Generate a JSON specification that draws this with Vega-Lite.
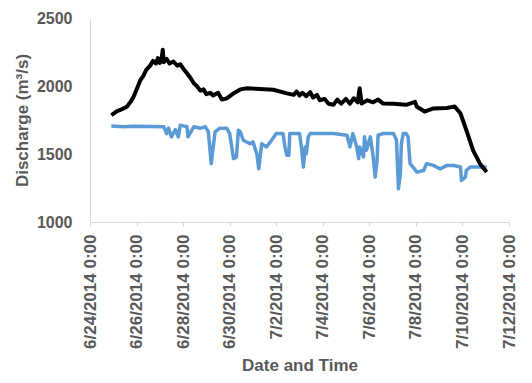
{
  "$schema": "https://vega.github.io/schema/vega-lite/v6.json",
  "width": 419,
  "height": 204,
  "autosize": "none",
  "padding": {"left": 90, "top": 18, "right": 23, "bottom": 161},
  "background": "white",
  "config": {"view": {"stroke": null}, "font": "Liberation Sans"},
  "datasets": {
    "black": [
      {"t": "2014-06-24T22:00:00Z", "q": 1786},
      {"t": "2014-06-25T01:00:00Z", "q": 1800},
      {"t": "2014-06-25T04:00:00Z", "q": 1815},
      {"t": "2014-06-25T09:00:00Z", "q": 1830},
      {"t": "2014-06-25T14:00:00Z", "q": 1847},
      {"t": "2014-06-25T18:00:00Z", "q": 1885},
      {"t": "2014-06-25T21:00:00Z", "q": 1921},
      {"t": "2014-06-26T01:00:00Z", "q": 1990},
      {"t": "2014-06-26T04:00:00Z", "q": 2044},
      {"t": "2014-06-26T07:00:00Z", "q": 2075},
      {"t": "2014-06-26T10:00:00Z", "q": 2118},
      {"t": "2014-06-26T14:00:00Z", "q": 2150},
      {"t": "2014-06-26T17:00:00Z", "q": 2185},
      {"t": "2014-06-26T20:00:00Z", "q": 2165},
      {"t": "2014-06-26T22:00:00Z", "q": 2205},
      {"t": "2014-06-27T00:00:00Z", "q": 2170},
      {"t": "2014-06-27T02:00:00Z", "q": 2210},
      {"t": "2014-06-27T03:00:00Z", "q": 2266},
      {"t": "2014-06-27T04:00:00Z", "q": 2175},
      {"t": "2014-06-27T07:00:00Z", "q": 2200},
      {"t": "2014-06-27T10:00:00Z", "q": 2165},
      {"t": "2014-06-27T14:00:00Z", "q": 2180},
      {"t": "2014-06-27T18:00:00Z", "q": 2150},
      {"t": "2014-06-27T21:00:00Z", "q": 2160},
      {"t": "2014-06-28T01:00:00Z", "q": 2120},
      {"t": "2014-06-28T04:00:00Z", "q": 2094},
      {"t": "2014-06-28T08:00:00Z", "q": 2055},
      {"t": "2014-06-28T11:00:00Z", "q": 2020},
      {"t": "2014-06-28T14:00:00Z", "q": 2000},
      {"t": "2014-06-28T18:00:00Z", "q": 1965},
      {"t": "2014-06-28T21:00:00Z", "q": 1975},
      {"t": "2014-06-29T00:00:00Z", "q": 1940},
      {"t": "2014-06-29T04:00:00Z", "q": 1950},
      {"t": "2014-06-29T07:00:00Z", "q": 1930},
      {"t": "2014-06-29T12:00:00Z", "q": 1950},
      {"t": "2014-06-29T16:00:00Z", "q": 1900},
      {"t": "2014-06-29T21:00:00Z", "q": 1909},
      {"t": "2014-06-30T04:00:00Z", "q": 1946},
      {"t": "2014-06-30T11:00:00Z", "q": 1975},
      {"t": "2014-06-30T18:00:00Z", "q": 1983},
      {"t": "2014-07-01T07:00:00Z", "q": 1978},
      {"t": "2014-07-01T21:00:00Z", "q": 1972},
      {"t": "2014-07-02T11:00:00Z", "q": 1946},
      {"t": "2014-07-02T18:00:00Z", "q": 1935},
      {"t": "2014-07-02T21:00:00Z", "q": 1960},
      {"t": "2014-07-03T00:00:00Z", "q": 1930},
      {"t": "2014-07-03T03:00:00Z", "q": 1950},
      {"t": "2014-07-03T07:00:00Z", "q": 1925},
      {"t": "2014-07-03T11:00:00Z", "q": 1955},
      {"t": "2014-07-03T14:00:00Z", "q": 1915},
      {"t": "2014-07-03T18:00:00Z", "q": 1935},
      {"t": "2014-07-03T21:00:00Z", "q": 1895},
      {"t": "2014-07-04T02:00:00Z", "q": 1905},
      {"t": "2014-07-04T06:00:00Z", "q": 1870},
      {"t": "2014-07-04T11:00:00Z", "q": 1862},
      {"t": "2014-07-04T15:00:00Z", "q": 1900},
      {"t": "2014-07-04T19:00:00Z", "q": 1870},
      {"t": "2014-07-05T00:00:00Z", "q": 1905},
      {"t": "2014-07-05T04:00:00Z", "q": 1870},
      {"t": "2014-07-05T08:00:00Z", "q": 1910},
      {"t": "2014-07-05T12:00:00Z", "q": 1880},
      {"t": "2014-07-05T14:00:00Z", "q": 1983},
      {"t": "2014-07-05T16:00:00Z", "q": 1872},
      {"t": "2014-07-05T22:00:00Z", "q": 1895},
      {"t": "2014-07-06T04:00:00Z", "q": 1880},
      {"t": "2014-07-06T09:00:00Z", "q": 1900},
      {"t": "2014-07-06T14:00:00Z", "q": 1872},
      {"t": "2014-07-07T01:00:00Z", "q": 1870},
      {"t": "2014-07-07T14:00:00Z", "q": 1862},
      {"t": "2014-07-07T23:00:00Z", "q": 1884},
      {"t": "2014-07-08T01:00:00Z", "q": 1847},
      {"t": "2014-07-08T09:00:00Z", "q": 1812},
      {"t": "2014-07-08T18:00:00Z", "q": 1835},
      {"t": "2014-07-09T08:00:00Z", "q": 1838},
      {"t": "2014-07-09T16:00:00Z", "q": 1850},
      {"t": "2014-07-09T22:00:00Z", "q": 1798},
      {"t": "2014-07-10T04:00:00Z", "q": 1675},
      {"t": "2014-07-10T11:00:00Z", "q": 1527},
      {"t": "2014-07-10T18:00:00Z", "q": 1429},
      {"t": "2014-07-11T01:00:00Z", "q": 1367}
    ],
    "blue": [
      {"t": "2014-06-24T22:00:00Z", "q": 1706},
      {"t": "2014-06-25T10:00:00Z", "q": 1700},
      {"t": "2014-06-25T21:00:00Z", "q": 1704},
      {"t": "2014-06-26T14:00:00Z", "q": 1702},
      {"t": "2014-06-27T04:00:00Z", "q": 1700},
      {"t": "2014-06-27T07:00:00Z", "q": 1650},
      {"t": "2014-06-27T09:00:00Z", "q": 1690},
      {"t": "2014-06-27T12:00:00Z", "q": 1626},
      {"t": "2014-06-27T16:00:00Z", "q": 1680},
      {"t": "2014-06-27T19:00:00Z", "q": 1626},
      {"t": "2014-06-27T21:00:00Z", "q": 1712},
      {"t": "2014-06-28T04:00:00Z", "q": 1700},
      {"t": "2014-06-28T05:00:00Z", "q": 1626},
      {"t": "2014-06-28T11:00:00Z", "q": 1700},
      {"t": "2014-06-28T18:00:00Z", "q": 1690},
      {"t": "2014-06-28T23:00:00Z", "q": 1700},
      {"t": "2014-06-29T02:00:00Z", "q": 1663},
      {"t": "2014-06-29T05:00:00Z", "q": 1429},
      {"t": "2014-06-29T07:00:00Z", "q": 1552},
      {"t": "2014-06-29T09:00:00Z", "q": 1663},
      {"t": "2014-06-29T14:00:00Z", "q": 1690},
      {"t": "2014-06-29T21:00:00Z", "q": 1690},
      {"t": "2014-06-30T00:00:00Z", "q": 1650},
      {"t": "2014-06-30T04:00:00Z", "q": 1466},
      {"t": "2014-06-30T07:00:00Z", "q": 1478},
      {"t": "2014-06-30T09:00:00Z", "q": 1675},
      {"t": "2014-06-30T11:00:00Z", "q": 1663},
      {"t": "2014-06-30T14:00:00Z", "q": 1601},
      {"t": "2014-06-30T21:00:00Z", "q": 1576},
      {"t": "2014-07-01T00:00:00Z", "q": 1589},
      {"t": "2014-07-01T04:00:00Z", "q": 1502},
      {"t": "2014-07-01T06:00:00Z", "q": 1391},
      {"t": "2014-07-01T07:00:00Z", "q": 1453},
      {"t": "2014-07-01T09:00:00Z", "q": 1576},
      {"t": "2014-07-01T14:00:00Z", "q": 1552},
      {"t": "2014-07-01T18:00:00Z", "q": 1589},
      {"t": "2014-07-02T00:00:00Z", "q": 1650},
      {"t": "2014-07-02T07:00:00Z", "q": 1650},
      {"t": "2014-07-02T09:00:00Z", "q": 1552},
      {"t": "2014-07-02T11:00:00Z", "q": 1490},
      {"t": "2014-07-02T13:00:00Z", "q": 1490},
      {"t": "2014-07-02T14:00:00Z", "q": 1650},
      {"t": "2014-07-03T00:00:00Z", "q": 1650},
      {"t": "2014-07-03T02:00:00Z", "q": 1552},
      {"t": "2014-07-03T04:00:00Z", "q": 1404},
      {"t": "2014-07-03T06:00:00Z", "q": 1552},
      {"t": "2014-07-03T07:00:00Z", "q": 1502},
      {"t": "2014-07-03T09:00:00Z", "q": 1626},
      {"t": "2014-07-03T11:00:00Z", "q": 1650},
      {"t": "2014-07-04T11:00:00Z", "q": 1650},
      {"t": "2014-07-05T01:00:00Z", "q": 1638},
      {"t": "2014-07-05T04:00:00Z", "q": 1552},
      {"t": "2014-07-05T07:00:00Z", "q": 1650},
      {"t": "2014-07-05T11:00:00Z", "q": 1552},
      {"t": "2014-07-05T13:00:00Z", "q": 1466},
      {"t": "2014-07-05T14:00:00Z", "q": 1552},
      {"t": "2014-07-05T18:00:00Z", "q": 1478},
      {"t": "2014-07-05T19:00:00Z", "q": 1626},
      {"t": "2014-07-05T21:00:00Z", "q": 1527},
      {"t": "2014-07-06T01:00:00Z", "q": 1626},
      {"t": "2014-07-06T04:00:00Z", "q": 1478},
      {"t": "2014-07-06T06:00:00Z", "q": 1330},
      {"t": "2014-07-06T08:00:00Z", "q": 1453},
      {"t": "2014-07-06T09:00:00Z", "q": 1638},
      {"t": "2014-07-06T14:00:00Z", "q": 1650},
      {"t": "2014-07-07T01:00:00Z", "q": 1650},
      {"t": "2014-07-07T04:00:00Z", "q": 1601},
      {"t": "2014-07-07T06:00:00Z", "q": 1244},
      {"t": "2014-07-07T08:00:00Z", "q": 1355},
      {"t": "2014-07-07T09:00:00Z", "q": 1576},
      {"t": "2014-07-07T11:00:00Z", "q": 1650},
      {"t": "2014-07-07T14:00:00Z", "q": 1650},
      {"t": "2014-07-07T16:00:00Z", "q": 1626},
      {"t": "2014-07-07T18:00:00Z", "q": 1429},
      {"t": "2014-07-07T21:00:00Z", "q": 1404},
      {"t": "2014-07-08T01:00:00Z", "q": 1367},
      {"t": "2014-07-08T08:00:00Z", "q": 1379},
      {"t": "2014-07-08T11:00:00Z", "q": 1429},
      {"t": "2014-07-08T18:00:00Z", "q": 1416},
      {"t": "2014-07-09T01:00:00Z", "q": 1391},
      {"t": "2014-07-09T08:00:00Z", "q": 1416},
      {"t": "2014-07-09T15:00:00Z", "q": 1416},
      {"t": "2014-07-09T22:00:00Z", "q": 1404},
      {"t": "2014-07-09T23:00:00Z", "q": 1305},
      {"t": "2014-07-10T03:00:00Z", "q": 1330},
      {"t": "2014-07-10T04:00:00Z", "q": 1379},
      {"t": "2014-07-10T08:00:00Z", "q": 1404},
      {"t": "2014-07-10T15:00:00Z", "q": 1404},
      {"t": "2014-07-11T01:00:00Z", "q": 1404}
    ]
  },
  "encoding": {
    "x": {
      "field": "t",
      "type": "temporal",
      "scale": {
        "type": "utc",
        "domain": [
          {"year": 2014, "month": 6, "date": 24, "utc": true},
          {"year": 2014, "month": 7, "date": 12, "utc": true}
        ],
        "nice": false
      },
      "axis": {
        "title": "Date and Time",
        "format": "%-m/%-d/%Y %-H:%M",
        "values": [
          {"year": 2014, "month": 6, "date": 24, "utc": true},
          {"year": 2014, "month": 6, "date": 26, "utc": true},
          {"year": 2014, "month": 6, "date": 28, "utc": true},
          {"year": 2014, "month": 6, "date": 30, "utc": true},
          {"year": 2014, "month": 7, "date": 2, "utc": true},
          {"year": 2014, "month": 7, "date": 4, "utc": true},
          {"year": 2014, "month": 7, "date": 6, "utc": true},
          {"year": 2014, "month": 7, "date": 8, "utc": true},
          {"year": 2014, "month": 7, "date": 10, "utc": true},
          {"year": 2014, "month": 7, "date": 12, "utc": true}
        ],
        "labelAngle": -90,
        "labelAlign": "right",
        "labelBaseline": "middle",
        "labelFontSize": 17,
        "labelFontWeight": "bold",
        "labelColor": "#595959",
        "labelPadding": 8,
        "labelOverlap": false,
        "labelFlush": false,
        "tickSize": 4,
        "tickColor": "#D9D9D9",
        "domainColor": "#D9D9D9",
        "grid": false,
        "titleFontSize": 17,
        "titleFontWeight": "bold",
        "titleColor": "#595959",
        "titlePadding": 9
      }
    },
    "y": {
      "field": "q",
      "type": "quantitative",
      "scale": {"domain": [1000, 2500], "nice": false, "zero": false},
      "axis": {
        "title": "Discharge (m³/s)",
        "values": [1000, 1500, 2000, 2500],
        "format": "d",
        "ticks": false,
        "grid": false,
        "labelFontSize": 16,
        "labelFontWeight": "bold",
        "labelColor": "#595959",
        "labelPadding": 18,
        "domainColor": "#D9D9D9",
        "titleFontSize": 17,
        "titleFontWeight": "bold",
        "titleColor": "#595959",
        "titlePadding": 5
      }
    }
  },
  "layer": [
    {
      "data": {"name": "blue"},
      "mark": {"type": "line", "color": "#5B9BD5", "strokeWidth": 3.5, "strokeJoin": "round"}
    },
    {
      "data": {"name": "black"},
      "mark": {"type": "line", "color": "#000000", "strokeWidth": 4, "strokeJoin": "round"}
    }
  ]
}
